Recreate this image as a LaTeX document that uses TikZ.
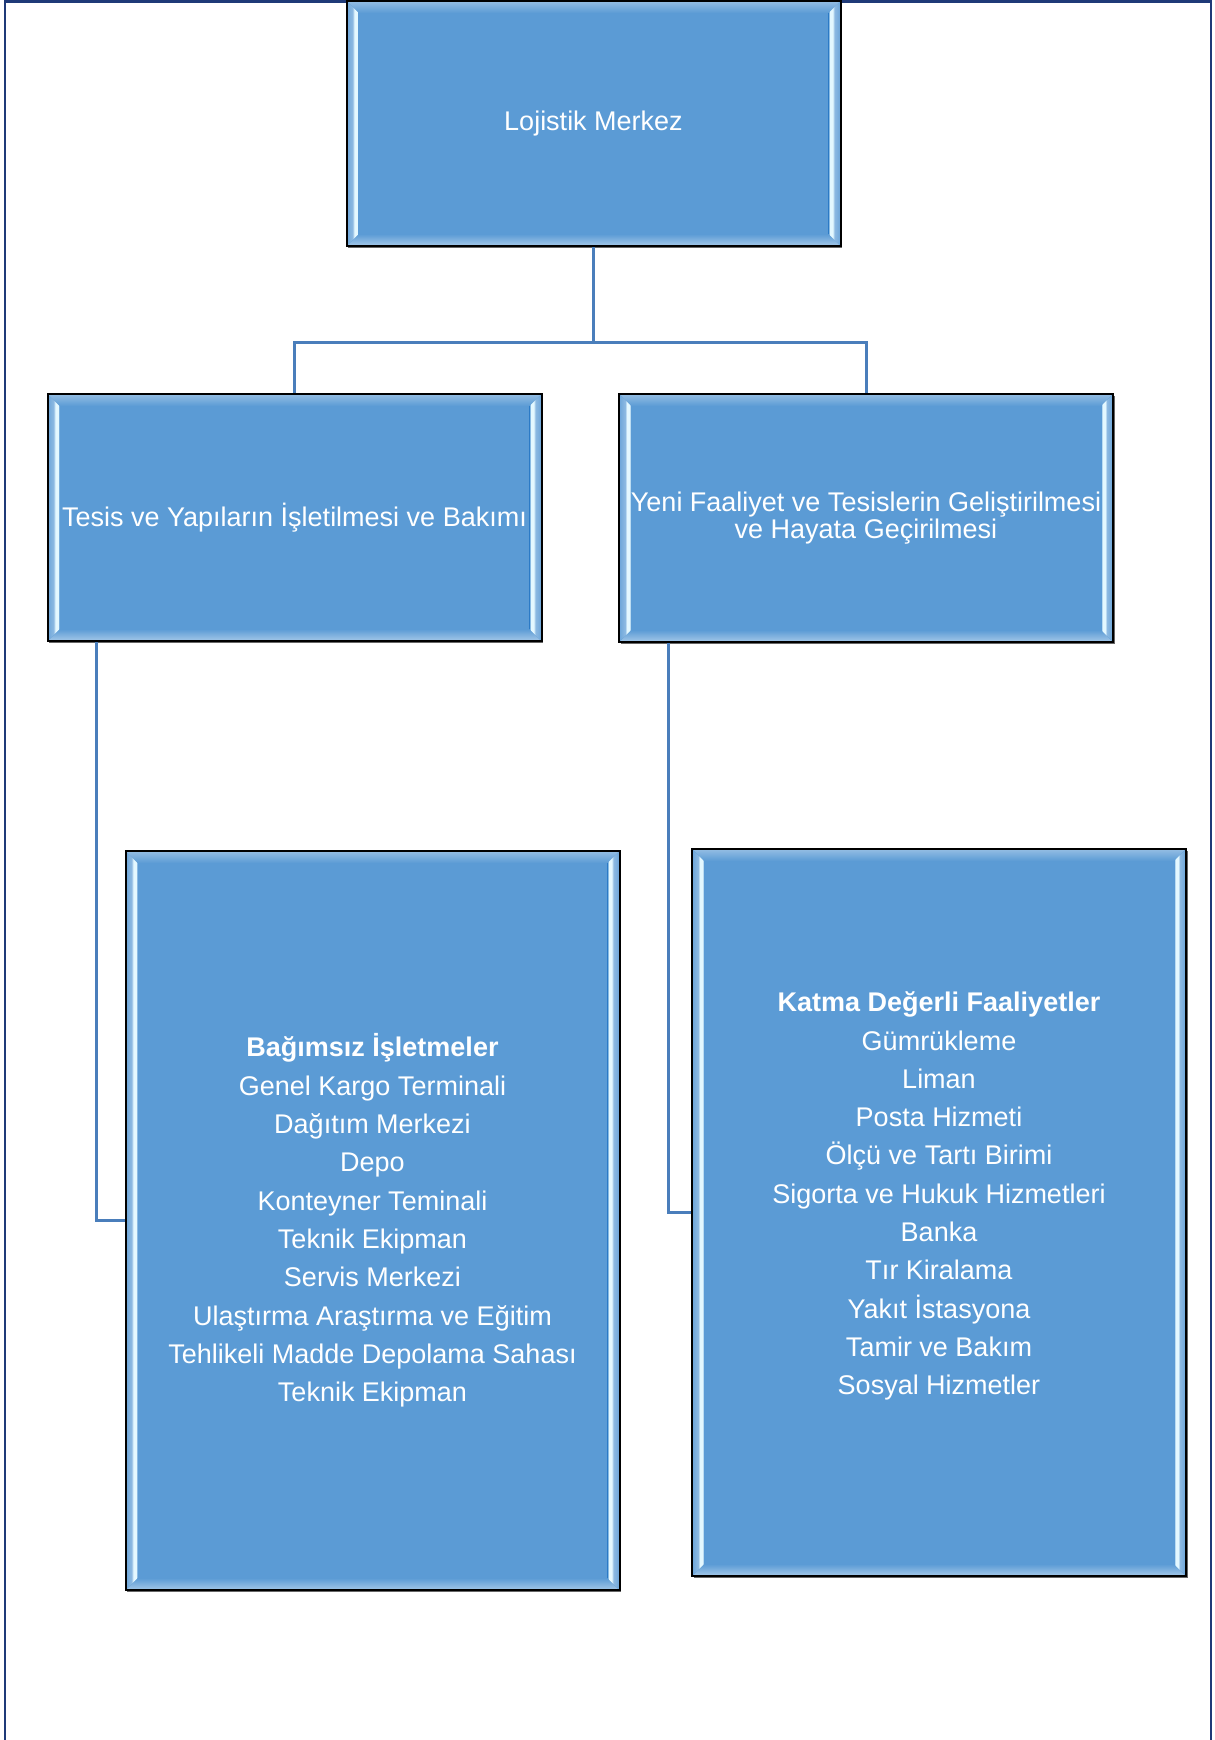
\documentclass[tikz,border=0pt]{standalone}
\usepackage{fontspec}
\setmainfont{Liberation Sans}
\usepackage{tikz}
\usetikzlibrary{positioning,calc,shadows}

\definecolor{boxblue}{HTML}{5B9BD5}
\definecolor{edgehi}{HTML}{E4F8FF}
\definecolor{linkblue}{HTML}{4A7EBB}
\definecolor{framenavy}{HTML}{1F3A78}

\pgfdeclarehorizontalshading{bevelside}{100bp}{color(0bp)=(boxblue); color(25bp)=(boxblue!90!white); color(50bp)=(boxblue!70!white); color(58bp)=(edgehi); color(69bp)=(edgehi); color(75bp)=(boxblue); color(100bp)=(boxblue)}

\begin{document}
\begin{tikzpicture}[x=0.5pt, y=-0.5pt,
  unit/.style={draw=black, line width=1pt, fill=boxblue, text=white, align=center,
    minimum width=247pt, inner sep=0pt, font=\fontsize{13.5}{19.15}\selectfont,
    drop shadow={shadow xshift=0.8pt, shadow yshift=-0.8pt, opacity=0.6, fill=black},
    path picture={
      \coordinate (bsw) at (path picture bounding box.south west);
      \coordinate (bne) at (path picture bounding box.north east);
      \coordinate (bnw) at (bsw |- bne);
      \coordinate (bse) at (bne |- bsw);
      % top and bottom bevel
      \fill[top color=boxblue!65!white, bottom color=boxblue]
        (bnw) -- (bne) -- ($(bne)+(-6pt,-6pt)$) -- ($(bnw)+(6pt,-6pt)$) -- cycle;
      \fill[top color=boxblue, bottom color=boxblue!55!white]
        (bsw) -- (bse) -- ($(bse)+(-6pt,6pt)$) -- ($(bsw)+(6pt,6pt)$) -- cycle;
      % side bevels
      \fill[shading=bevelside]
        (bsw) -- ($(bsw)+(6pt,6pt)$) -- ($(bnw)+(6pt,-6pt)$) -- (bnw) -- cycle;
      \fill[shading=bevelside, shading angle=180]
        (bse) -- ($(bse)+(-6pt,6pt)$) -- ($(bne)+(-6pt,-6pt)$) -- (bne) -- cycle;
    }},
  link/.style={draw=linkblue, line width=1.5pt},
  frame/.style={draw=framenavy, line width=1.3pt}]

\useasboundingbox (0,0) rectangle (1215,1740);

% Page frame
\draw[frame] (5,1740) -- (5,1.3) -- (1211,1.3) -- (1211,1740);

% Top level
\node[unit, minimum height=122.5pt] (merkez) at (593.5,123.5) {Lojistik Merkez};

% Second level
\node[unit, minimum height=123.5pt] (isletme) at (294.5,517.5)
  {Tesis ve Yapıların İşletilmesi ve Bakımı};
\node[unit, minimum height=124pt, font=\fontsize{13.5}{13.9}\selectfont] (gelistirme) at (866,518)
  {Yeni Faaliyet ve Tesislerin Geliştirilmesi\\ve Hayata Geçirilmesi};

% Third level
\node[unit, minimum height=369.5pt] (bagimsiz) at (372.5,1220.5) {
  \textbf{Bağımsız İşletmeler}\\
  Genel Kargo Terminali\\
  Dağıtım Merkezi\\
  Depo\\
  Konteyner Teminali\\
  Teknik Ekipman\\
  Servis Merkezi\\
  Ulaştırma Araştırma ve Eğitim\\
  Tehlikeli Madde Depolama Sahası\\
  Teknik Ekipman
};
\node[unit, minimum height=363.5pt] (katma) at (939,1212.5) {
  \textbf{Katma Değerli Faaliyetler}\\
  Gümrükleme\\
  Liman\\
  Posta Hizmeti\\
  Ölçü ve Tartı Birimi\\
  Sigorta ve Hukuk Hizmetleri\\
  Banka\\
  Tır Kiralama\\
  Yakıt İstasyona\\
  Tamir ve Bakım\\
  Sosyal Hizmetler\\
  \mbox{}
};

% Connectors
\coordinate (split) at (593.5,342);
\draw[link] (merkez.south) -- (split) -| (isletme.north);
\draw[link] (split) -| (gelistirme.north);
\draw[link] ($(isletme.south west)+(50,0)$) |- (bagimsiz.west);
\draw[link] ($(gelistirme.south west)+(50,0)$) |- (katma.west);

\end{tikzpicture}
\end{document}
